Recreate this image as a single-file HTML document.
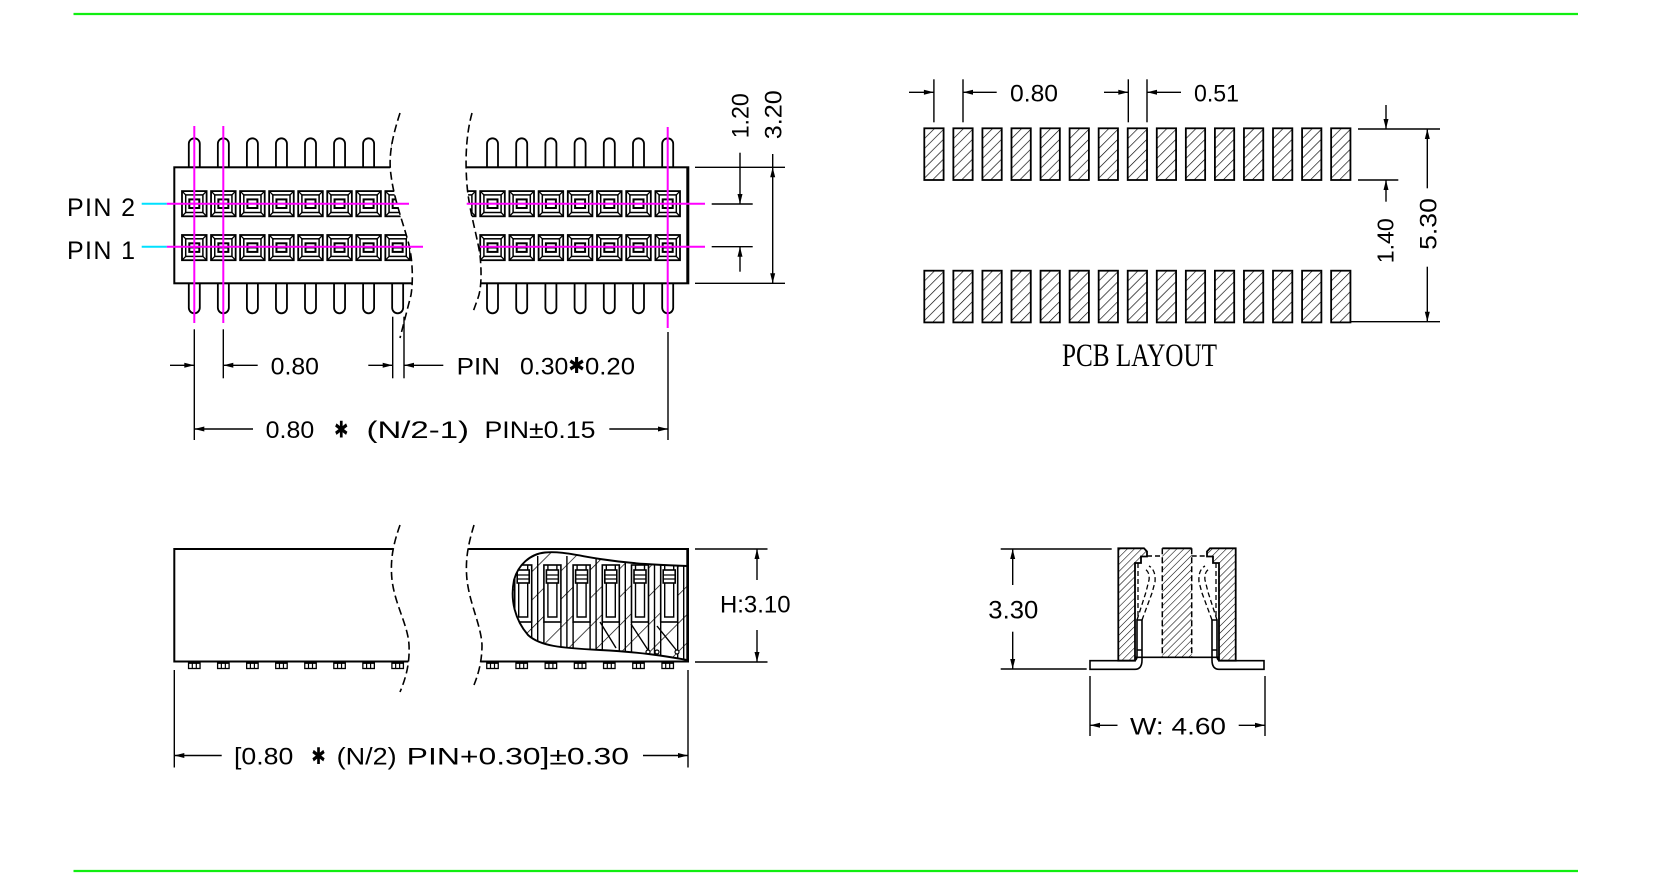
<!DOCTYPE html>
<html>
<head>
<meta charset="utf-8">
<style>
  html,body{margin:0;padding:0;background:#fff;}
  svg{display:block;}
  text{font-family:"Liberation Sans","DejaVu Sans",sans-serif;fill:#000;}
  .sym{font-family:"DejaVu Sans","Liberation Sans",sans-serif;}
  .serif{font-family:"Liberation Serif","DejaVu Serif",serif;}
</style>
</head>
<body>
<svg width="1653" height="882" viewBox="0 0 1653 882" xmlns="http://www.w3.org/2000/svg">
<defs>
  <pattern id="hp" width="7" height="7" patternUnits="userSpaceOnUse" patternTransform="rotate(45)">
    <line x1="0" y1="0" x2="0" y2="7" stroke="#000" stroke-width="1.3"/>
  </pattern>
  <pattern id="hx" width="5" height="5" patternUnits="userSpaceOnUse" patternTransform="rotate(45)">
    <line x1="0" y1="0" x2="0" y2="5" stroke="#000" stroke-width="1.1"/>
  </pattern>
  <pattern id="hb" width="20" height="20" patternUnits="userSpaceOnUse" patternTransform="rotate(45)">
    <line x1="0" y1="0" x2="0" y2="20" stroke="#000" stroke-width="1.4"/>
  </pattern>

  <path id="pt" d="M-5.5,29 V5.5 A5.5,5.5 0 0 1 5.5,5.5 V29" fill="#fff" stroke="#000" stroke-width="1.8"/>
  <path id="pb" d="M-5.5,0 V24.5 A5.5,5.5 0 0 0 5.5,24.5 V0" fill="#fff" stroke="#000" stroke-width="1.8"/>

  <g id="sq">
    <rect x="-12.3" y="-12.6" width="24.6" height="25.2" fill="#fff" stroke="#000" stroke-width="1.8"/>
    <rect x="-8.6" y="-8.8" width="17.2" height="17.6" fill="none" stroke="#000" stroke-width="1.5"/>
    <path d="M-12.3,-12.6 L-8.6,-8.8 M12.3,-12.6 L8.6,-8.8 M-12.3,12.6 L-8.6,8.8 M12.3,12.6 L8.6,8.8" stroke="#000" stroke-width="1.3"/>
    <rect x="-5" y="-4.3" width="10" height="8.6" fill="none" stroke="#000" stroke-width="2"/>
    <line x1="-5" y1="0" x2="5" y2="0" stroke="#000" stroke-width="1.7"/>
  </g>

  <rect id="pad" x="0" y="0" width="19.3" height="51.7" fill="url(#hp)" stroke="#000" stroke-width="1.8"/>

  <g id="ft">
    <rect x="-5.75" y="0" width="11.5" height="6" fill="#fff" stroke="#000" stroke-width="1.3"/>
    <line x1="-5.75" y1="0.6" x2="5.75" y2="0.6" stroke="#000" stroke-width="1.6"/>
    <path d="M-2,0 V6 M2,0 V6" stroke="#000" stroke-width="1.2"/>
  </g>

  <g id="ct">
    <rect x="-7" y="565" width="17" height="57" fill="#fff" stroke="#000" stroke-width="1.6"/>
    <path d="M-3,565 V617 H6 V565" fill="none" stroke="#000" stroke-width="1.4"/>
    <rect x="-4.5" y="570" width="12" height="13" fill="#fff" stroke="#000" stroke-width="1.6"/>
    <path d="M-4.5,575 H7.5 M-4.5,579 H7.5" stroke="#000" stroke-width="1.2"/>
    <path d="M-7,622 V672 M10,622 V672 M16,556 V672" stroke="#000" stroke-width="1.4"/>
  </g>

  <clipPath id="tl"><path d="M100,100 L400,100 L400,113 C393,135 388,155 391,175 C394,200 404,225 409,245 C413,262 413,283 411,295 L400,338 L100,338 Z"/></clipPath>
  <clipPath id="tr"><path d="M472,113 C466,135 465,160 467,185 C469,210 477,235 480,255 C482,275 481,290 478,298 L473,312 L720,312 L720,100 L472,100 Z"/></clipPath>
  <clipPath id="sl"><path d="M100,500 L400,500 L400,525 C393,545 390,560 392,580 C395,605 408,625 409,645 C410,665 405,680 400,692 L100,692 Z"/></clipPath>
  <clipPath id="sr"><path d="M474,500 L474,525 C468,545 465,560 467,580 C470,605 481,625 482,645 C482,662 478,675 474,685 L720,685 L720,500 Z"/></clipPath>
  <clipPath id="blob"><path d="M687.3,566 C660,565 633,564 600,559 C575,555 560,551 545,552.5 C530,554 518,565 514,580 C510,600 515,620 528,635 C540,646 560,648 600,650 C640,652 665,656 687.3,660 Z"/></clipPath>
</defs>

<rect x="0" y="0" width="1653" height="882" fill="#fff"/>

<!-- green border lines -->
<line x1="73.5" y1="14" x2="1578" y2="14" stroke="#11ee11" stroke-width="2.2"/>
<line x1="73.5" y1="871" x2="1578" y2="871" stroke="#11ee11" stroke-width="2.2"/>

<!-- ================= TOP VIEW ================= -->
<g clip-path="url(#tl)">
  <use href="#pt" x="194.3" y="138.3"/><use href="#pt" x="223.35" y="138.3"/><use href="#pt" x="252.4" y="138.3"/><use href="#pt" x="281.45" y="138.3"/>
  <use href="#pt" x="310.5" y="138.3"/><use href="#pt" x="339.55" y="138.3"/><use href="#pt" x="368.6" y="138.3"/><use href="#pt" x="397.65" y="138.3"/>
  <use href="#pb" x="194.3" y="283.3"/><use href="#pb" x="223.35" y="283.3"/><use href="#pb" x="252.4" y="283.3"/><use href="#pb" x="281.45" y="283.3"/>
  <use href="#pb" x="310.5" y="283.3"/><use href="#pb" x="339.55" y="283.3"/><use href="#pb" x="368.6" y="283.3"/><use href="#pb" x="397.65" y="283.3"/>
  <rect x="174.3" y="167.3" width="260" height="116" fill="#fff" stroke="#000" stroke-width="2"/>
  <use href="#sq" x="194.3" y="203.7"/><use href="#sq" x="223.35" y="203.7"/><use href="#sq" x="252.4" y="203.7"/><use href="#sq" x="281.45" y="203.7"/>
  <use href="#sq" x="310.5" y="203.7"/><use href="#sq" x="339.55" y="203.7"/><use href="#sq" x="368.6" y="203.7"/><use href="#sq" x="397.65" y="203.7"/>
  <use href="#sq" x="194.3" y="247.6"/><use href="#sq" x="223.35" y="247.6"/><use href="#sq" x="252.4" y="247.6"/><use href="#sq" x="281.45" y="247.6"/>
  <use href="#sq" x="310.5" y="247.6"/><use href="#sq" x="339.55" y="247.6"/><use href="#sq" x="368.6" y="247.6"/><use href="#sq" x="397.65" y="247.6"/>
</g>
<use href="#pt" x="492.5" y="138.3"/><use href="#pt" x="521.7" y="138.3"/><use href="#pt" x="550.9" y="138.3"/><use href="#pt" x="580.1" y="138.3"/>
<use href="#pt" x="609.3" y="138.3"/><use href="#pt" x="638.5" y="138.3"/><use href="#pt" x="667.7" y="138.3"/>
<use href="#pb" x="492.5" y="283.3"/><use href="#pb" x="521.7" y="283.3"/><use href="#pb" x="550.9" y="283.3"/><use href="#pb" x="580.1" y="283.3"/>
<use href="#pb" x="609.3" y="283.3"/><use href="#pb" x="638.5" y="283.3"/><use href="#pb" x="667.7" y="283.3"/>
<g clip-path="url(#tr)">
  <rect x="430" y="167.3" width="258.3" height="116" fill="#fff" stroke="#000" stroke-width="2"/>
  <use href="#sq" x="463.3" y="203.7"/><use href="#sq" x="492.5" y="203.7"/><use href="#sq" x="521.7" y="203.7"/><use href="#sq" x="550.9" y="203.7"/>
  <use href="#sq" x="580.1" y="203.7"/><use href="#sq" x="609.3" y="203.7"/><use href="#sq" x="638.5" y="203.7"/><use href="#sq" x="667.7" y="203.7"/>
  <use href="#sq" x="463.3" y="247.6"/><use href="#sq" x="492.5" y="247.6"/><use href="#sq" x="521.7" y="247.6"/><use href="#sq" x="550.9" y="247.6"/>
  <use href="#sq" x="580.1" y="247.6"/><use href="#sq" x="609.3" y="247.6"/><use href="#sq" x="638.5" y="247.6"/><use href="#sq" x="667.7" y="247.6"/>
</g>
<rect x="686.3" y="167.3" width="2" height="116" fill="#000"/>
<path d="M400,113 C393,135 388,155 391,175 C394,200 404,225 409,245 C413,262 413,283 411,295 L400,338" fill="none" stroke="#000" stroke-width="1.6" stroke-dasharray="8 4"/>
<path d="M472,113 C466,135 465,160 467,185 C469,210 477,235 480,255 C482,275 481,290 478,298 L473,312" fill="none" stroke="#000" stroke-width="1.6" stroke-dasharray="8 4"/>

<g stroke="#ff00ff" stroke-width="2">
  <line x1="194.3" y1="126" x2="194.3" y2="323"/>
  <line x1="223.3" y1="126" x2="223.3" y2="323"/>
  <line x1="667.7" y1="127" x2="667.7" y2="328"/>
  <line x1="166.7" y1="203.7" x2="409" y2="203.7"/>
  <line x1="466.7" y1="203.7" x2="705" y2="203.7"/>
  <line x1="166.7" y1="246.7" x2="423" y2="246.7"/>
  <line x1="480" y1="246.7" x2="705" y2="246.7"/>
</g>
<g stroke="#00e0ff" stroke-width="2">
  <line x1="141.7" y1="203.7" x2="166.7" y2="203.7"/>
  <line x1="141.7" y1="246.7" x2="166.7" y2="246.7"/>
</g>
<text x="67" y="216" font-size="25" textLength="68" lengthAdjust="spacing">PIN 2</text>
<text x="67" y="259" font-size="25" textLength="68" lengthAdjust="spacing">PIN 1</text>

<!-- top view dims -->
<g stroke="#000" stroke-width="1.4" fill="none">
  <line x1="194.3" y1="329.3" x2="194.3" y2="440"/>
  <line x1="223.3" y1="329.3" x2="223.3" y2="378.3"/>
  <line x1="170" y1="365.3" x2="194.3" y2="365.3"/>
  <line x1="223.3" y1="365.3" x2="257.7" y2="365.3"/>
  <line x1="392.7" y1="316.7" x2="392.7" y2="378.3"/>
  <line x1="404" y1="316.7" x2="404" y2="378.3"/>
  <line x1="368.3" y1="365.3" x2="392.7" y2="365.3"/>
  <line x1="404" y1="365.3" x2="443.3" y2="365.3"/>
  <line x1="668" y1="332" x2="668" y2="440"/>
  <line x1="194.3" y1="429" x2="253" y2="429"/>
  <line x1="609.3" y1="429" x2="668" y2="429"/>
  <line x1="695" y1="167.3" x2="785" y2="167.3"/>
  <line x1="695" y1="283.3" x2="785" y2="283.3"/>
  <line x1="711.7" y1="204" x2="752.7" y2="204"/>
  <line x1="711.7" y1="246.7" x2="752.7" y2="246.7"/>
  <line x1="740" y1="152.7" x2="740" y2="204"/>
  <line x1="740" y1="246.7" x2="740" y2="271.7"/>
  <line x1="772.7" y1="154" x2="772.7" y2="283.3"/>
</g>
<g fill="#000">
  <polygon points="194.3,365.3 184.3,362.8 184.3,367.8"/>
  <polygon points="223.3,365.3 233.3,362.8 233.3,367.8"/>
  <polygon points="392.7,365.3 382.7,362.8 382.7,367.8"/>
  <polygon points="404,365.3 414,362.8 414,367.8"/>
  <polygon points="194.3,429 204.3,426.5 204.3,431.5"/>
  <polygon points="668,429 658,426.5 658,431.5"/>
  <polygon points="740,204 737.5,194 742.5,194"/>
  <polygon points="740,246.7 737.5,256.7 742.5,256.7"/>
  <polygon points="772.7,167.3 770.2,177.3 775.2,177.3"/>
  <polygon points="772.7,283.3 770.2,273.3 775.2,273.3"/>
</g>
<text x="270.7" y="374.3" font-size="24.5" textLength="48.3" lengthAdjust="spacingAndGlyphs">0.80</text>
<text x="456.7" y="374.3" font-size="24.5" textLength="43.3" lengthAdjust="spacingAndGlyphs">PIN</text>
<text x="520" y="374.3" font-size="24.5" textLength="48.3" lengthAdjust="spacingAndGlyphs">0.30</text>
<text class="sym" x="568.3" y="373" font-size="22" textLength="16.7" lengthAdjust="spacingAndGlyphs">✱</text>
<text x="585" y="374.3" font-size="24.5" textLength="50" lengthAdjust="spacingAndGlyphs">0.20</text>

<text x="265.7" y="438" font-size="24.5" textLength="48.5" lengthAdjust="spacingAndGlyphs">0.80</text>
<text class="sym" x="334" y="437.5" font-size="23" textLength="14.5" lengthAdjust="spacingAndGlyphs">✱</text>
<text x="366.5" y="438" font-size="24.5" textLength="102.5" lengthAdjust="spacingAndGlyphs">(N/2-1)</text>
<text x="484.5" y="438" font-size="24.5" textLength="111" lengthAdjust="spacingAndGlyphs">PIN±0.15</text>

<text transform="translate(748.5,115.8) rotate(-90)" text-anchor="middle" font-size="24" textLength="45" lengthAdjust="spacingAndGlyphs">1.20</text>
<text transform="translate(781.7,114.7) rotate(-90)" text-anchor="middle" font-size="24.5" textLength="49" lengthAdjust="spacingAndGlyphs">3.20</text>

<!-- ================= PCB LAYOUT ================= -->
<g>
  <use href="#pad" x="924.3" y="128.3"/><use href="#pad" x="953.36" y="128.3"/><use href="#pad" x="982.42" y="128.3"/><use href="#pad" x="1011.48" y="128.3"/>
  <use href="#pad" x="1040.54" y="128.3"/><use href="#pad" x="1069.6" y="128.3"/><use href="#pad" x="1098.66" y="128.3"/><use href="#pad" x="1127.72" y="128.3"/>
  <use href="#pad" x="1156.78" y="128.3"/><use href="#pad" x="1185.84" y="128.3"/><use href="#pad" x="1214.9" y="128.3"/><use href="#pad" x="1243.96" y="128.3"/>
  <use href="#pad" x="1273.02" y="128.3"/><use href="#pad" x="1302.08" y="128.3"/><use href="#pad" x="1331.14" y="128.3"/>
  <use href="#pad" x="924.3" y="270.7"/><use href="#pad" x="953.36" y="270.7"/><use href="#pad" x="982.42" y="270.7"/><use href="#pad" x="1011.48" y="270.7"/>
  <use href="#pad" x="1040.54" y="270.7"/><use href="#pad" x="1069.6" y="270.7"/><use href="#pad" x="1098.66" y="270.7"/><use href="#pad" x="1127.72" y="270.7"/>
  <use href="#pad" x="1156.78" y="270.7"/><use href="#pad" x="1185.84" y="270.7"/><use href="#pad" x="1214.9" y="270.7"/><use href="#pad" x="1243.96" y="270.7"/>
  <use href="#pad" x="1273.02" y="270.7"/><use href="#pad" x="1302.08" y="270.7"/><use href="#pad" x="1331.14" y="270.7"/>
</g>
<g stroke="#000" stroke-width="1.4" fill="none">
  <line x1="933.9" y1="79.3" x2="933.9" y2="122.3"/>
  <line x1="963" y1="79.3" x2="963" y2="122.3"/>
  <line x1="909" y1="92.3" x2="933.9" y2="92.3"/>
  <line x1="963" y1="92.3" x2="996.7" y2="92.3"/>
  <line x1="1128.3" y1="79.3" x2="1128.3" y2="122.3"/>
  <line x1="1147" y1="79.3" x2="1147" y2="122.3"/>
  <line x1="1104" y1="92.3" x2="1128.3" y2="92.3"/>
  <line x1="1147" y1="92.3" x2="1181" y2="92.3"/>
  <line x1="1358" y1="129" x2="1440" y2="129"/>
  <line x1="1358" y1="180" x2="1398.3" y2="180"/>
  <line x1="1351" y1="321.7" x2="1440" y2="321.7"/>
  <line x1="1386" y1="105" x2="1386" y2="129"/>
  <line x1="1386" y1="180" x2="1386" y2="201.7"/>
  <line x1="1427.3" y1="129" x2="1427.3" y2="188.3"/>
  <line x1="1427.3" y1="266.7" x2="1427.3" y2="321.7"/>
</g>
<g fill="#000">
  <polygon points="933.9,92.3 923.9,89.8 923.9,94.8"/>
  <polygon points="963,92.3 973,89.8 973,94.8"/>
  <polygon points="1128.3,92.3 1118.3,89.8 1118.3,94.8"/>
  <polygon points="1147,92.3 1157,89.8 1157,94.8"/>
  <polygon points="1386,129 1383.5,119 1388.5,119"/>
  <polygon points="1386,180 1383.5,190 1388.5,190"/>
  <polygon points="1427.3,129 1424.8,139 1429.8,139"/>
  <polygon points="1427.3,321.7 1424.8,311.7 1429.8,311.7"/>
</g>
<text x="1010" y="101.7" font-size="24.5" textLength="48" lengthAdjust="spacingAndGlyphs">0.80</text>
<text x="1194" y="101.7" font-size="24.5" textLength="45" lengthAdjust="spacingAndGlyphs">0.51</text>
<text transform="translate(1393.5,240.8) rotate(-90)" text-anchor="middle" font-size="23" textLength="45" lengthAdjust="spacingAndGlyphs">1.40</text>
<text transform="translate(1436.5,224) rotate(-90)" text-anchor="middle" font-size="24.5" textLength="51.7" lengthAdjust="spacingAndGlyphs">5.30</text>
<text class="serif" x="1062" y="366" font-size="33" textLength="155" lengthAdjust="spacingAndGlyphs">PCB LAYOUT</text>

<!-- ================= SIDE VIEW ================= -->
<g clip-path="url(#sl)">
  <rect x="174.3" y="549" width="260" height="112.5" fill="#fff" stroke="#000" stroke-width="2"/>
</g>
<g clip-path="url(#sr)">
  <rect x="440" y="549" width="248" height="112.5" fill="#fff" stroke="#000" stroke-width="2"/>
</g>
<use href="#ft" x="194.3" y="662.5"/><use href="#ft" x="223.35" y="662.5"/><use href="#ft" x="252.4" y="662.5"/><use href="#ft" x="281.45" y="662.5"/>
<use href="#ft" x="310.5" y="662.5"/><use href="#ft" x="339.55" y="662.5"/><use href="#ft" x="368.6" y="662.5"/><use href="#ft" x="397.65" y="662.5"/>
<use href="#ft" x="492.5" y="662.5"/><use href="#ft" x="521.7" y="662.5"/><use href="#ft" x="550.9" y="662.5"/><use href="#ft" x="580.1" y="662.5"/>
<use href="#ft" x="609.3" y="662.5"/><use href="#ft" x="638.5" y="662.5"/><use href="#ft" x="667.7" y="662.5"/>

<g clip-path="url(#blob)">
  <rect x="500" y="540" width="200" height="130" fill="#fff"/>
  <rect x="500" y="540" width="200" height="130" fill="url(#hb)"/>
  <use href="#ct" x="521.7" y="0"/><use href="#ct" x="550.9" y="0"/><use href="#ct" x="580.1" y="0"/>
  <use href="#ct" x="609.3" y="0"/><use href="#ct" x="638.5" y="0"/><use href="#ct" x="667.7" y="0"/>
  <path d="M600,622 L616,648 M631,624 L648,650 M657,626 L677,651" stroke="#000" stroke-width="1.4" fill="none"/>
  <circle cx="648" cy="652" r="2" fill="#fff" stroke="#000" stroke-width="1.2"/>
  <circle cx="657" cy="652" r="2" fill="#fff" stroke="#000" stroke-width="1.2"/>
  <circle cx="677" cy="652" r="2" fill="#fff" stroke="#000" stroke-width="1.2"/>
</g>
<path d="M687.3,566 C660,565 633,564 600,559 C575,555 560,551 545,552.5 C530,554 518,565 514,580 C510,600 515,620 528,635 C540,646 560,648 600,650 C640,652 665,656 687.3,660" fill="none" stroke="#000" stroke-width="1.9"/>
<rect x="686.3" y="549" width="2" height="112.5" fill="#000"/>

<path d="M400,525 C393,545 390,560 392,580 C395,605 408,625 409,645 C410,665 405,680 400,692" fill="none" stroke="#000" stroke-width="1.6" stroke-dasharray="8 4"/>
<path d="M474,525 C468,545 465,560 467,580 C470,605 481,625 482,645 C482,662 478,675 474,685" fill="none" stroke="#000" stroke-width="1.6" stroke-dasharray="8 4"/>

<g stroke="#000" stroke-width="1.4" fill="none">
  <line x1="695" y1="549" x2="767.5" y2="549"/>
  <line x1="695" y1="662" x2="767.5" y2="662"/>
  <line x1="757" y1="549" x2="757" y2="580"/>
  <line x1="757" y1="630" x2="757" y2="662"/>
  <line x1="174.3" y1="670" x2="174.3" y2="767.5"/>
  <line x1="688" y1="670" x2="688" y2="767.5"/>
  <line x1="174.3" y1="755.5" x2="221.7" y2="755.5"/>
  <line x1="643" y1="755.5" x2="688" y2="755.5"/>
</g>
<g fill="#000">
  <polygon points="757,549 754.5,559 759.5,559"/>
  <polygon points="757,662 754.5,652 759.5,652"/>
  <polygon points="174.3,755.5 184.3,753 184.3,758"/>
  <polygon points="688,755.5 678,753 678,758"/>
</g>
<text x="720" y="612.5" font-size="24.5" textLength="70.5" lengthAdjust="spacingAndGlyphs">H:3.10</text>
<text x="234" y="764.5" font-size="24.5" textLength="59.3" lengthAdjust="spacingAndGlyphs">[0.80</text>
<text class="sym" x="311.2" y="764" font-size="23" textLength="14.5" lengthAdjust="spacingAndGlyphs">✱</text>
<text x="336.7" y="764.5" font-size="24.5" textLength="60" lengthAdjust="spacingAndGlyphs">(N/2)</text>
<text x="406.7" y="764.5" font-size="24.5" textLength="222.3" lengthAdjust="spacingAndGlyphs">PIN+0.30]±0.30</text>

<!-- ================= CROSS SECTION ================= -->
<path d="M1090,660.7 L1133,660.7 Q1137,660.7 1137,656 L1137,620 L1142,620 L1142,660 Q1142,669.3 1135,669.3 L1090,669.3 Z" fill="#fff" stroke="#000" stroke-width="1.6"/>
<path d="M1264,660.7 L1221,660.7 Q1217,660.7 1217,656 L1217,620 L1212,620 L1212,660 Q1212,669.3 1219,669.3 L1264,669.3 Z" fill="#fff" stroke="#000" stroke-width="1.6"/>
<path d="M1137,650 H1142 M1212,650 H1217" stroke="#000" stroke-width="1.4"/>
<polygon points="1118.3,548.3 1144,548.3 1147,551.5 1147,556.5 1141,556.5 1141,563 1135,563 1135,660.7 1118.3,660.7" fill="url(#hx)" stroke="#000" stroke-width="1.8"/>
<polygon points="1235.7,548.3 1210,548.3 1207,551.5 1207,556.5 1213,556.5 1213,563 1219,563 1219,660.7 1235.7,660.7" fill="url(#hx)" stroke="#000" stroke-width="1.8"/>
<rect x="1162.3" y="548.3" width="29.4" height="109" fill="url(#hx)"/>
<line x1="1162.3" y1="548.3" x2="1191.7" y2="548.3" stroke="#000" stroke-width="1.8"/>
<path d="M1162.3,548.3 V657.3 M1191.7,548.3 V657.3" stroke="#000" stroke-width="1.5" stroke-dasharray="6 3" fill="none"/>
<path d="M1147,556 H1162.3 M1191.7,556 H1207" stroke="#000" stroke-width="1.4" stroke-dasharray="5 3" fill="none"/>
<line x1="1135" y1="657.3" x2="1219" y2="657.3" stroke="#000" stroke-width="1.6"/>
<path d="M1137,620 L1146,592 L1149,580 Q1150,572 1145,569 M1142,620 L1152,593 L1155,582 Q1156,570 1149,566 M1138,563 V618" fill="none" stroke="#000" stroke-width="1.3" stroke-dasharray="5 3"/>
<path d="M1217,620 L1208,592 L1205,580 Q1204,572 1209,569 M1212,620 L1202,593 L1199,582 Q1198,570 1205,566 M1216,563 V618" fill="none" stroke="#000" stroke-width="1.3" stroke-dasharray="5 3"/>

<g stroke="#000" stroke-width="1.4" fill="none">
  <line x1="1000.7" y1="549" x2="1111.7" y2="549"/>
  <line x1="1000.7" y1="669" x2="1086.7" y2="669"/>
  <line x1="1012.7" y1="549" x2="1012.7" y2="585"/>
  <line x1="1012.7" y1="631.7" x2="1012.7" y2="669"/>
  <line x1="1090" y1="676" x2="1090" y2="736"/>
  <line x1="1265" y1="676" x2="1265" y2="736"/>
  <line x1="1090" y1="725.3" x2="1117.5" y2="725.3"/>
  <line x1="1238.7" y1="725.3" x2="1265" y2="725.3"/>
</g>
<g fill="#000">
  <polygon points="1012.7,549 1010.2,559 1015.2,559"/>
  <polygon points="1012.7,669 1010.2,659 1015.2,659"/>
  <polygon points="1090,725.3 1100,722.8 1100,727.8"/>
  <polygon points="1265,725.3 1255,722.8 1255,727.8"/>
</g>
<text x="988.3" y="618.3" font-size="25" textLength="50" lengthAdjust="spacingAndGlyphs">3.30</text>
<text x="1130" y="734.5" font-size="24.5" textLength="96" lengthAdjust="spacingAndGlyphs">W: 4.60</text>

</svg>
</body>
</html>
